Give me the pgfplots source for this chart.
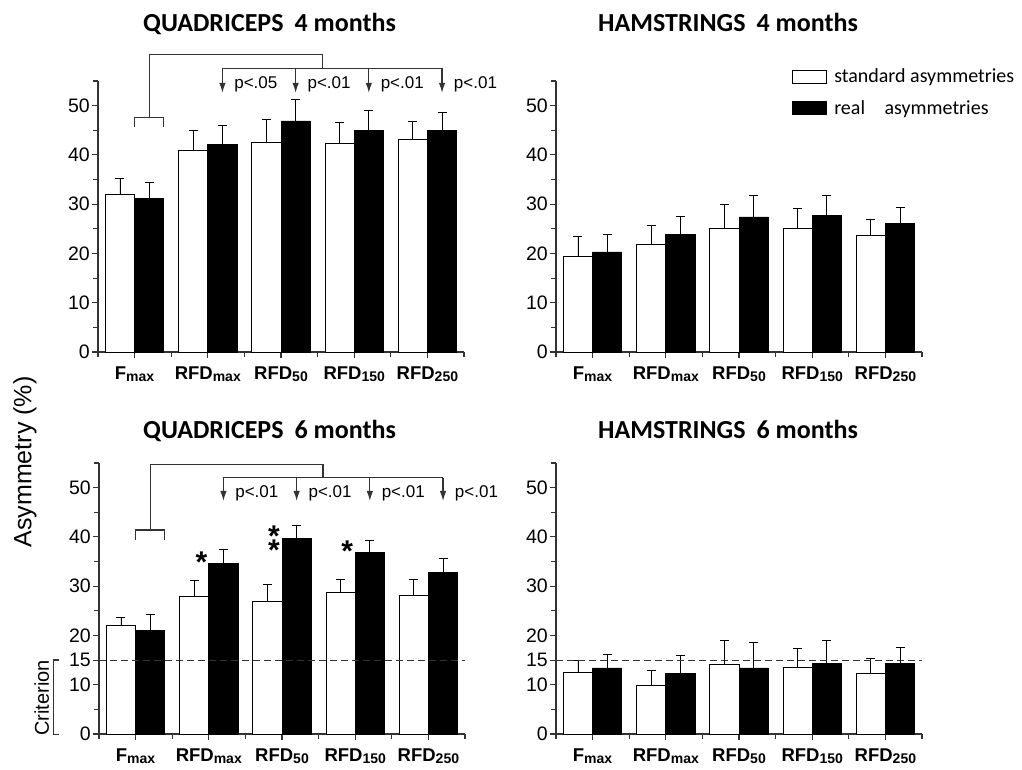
\documentclass[border=0pt]{standalone}
\usepackage{fontspec}
\setmainfont{Liberation Sans}
\newfontfamily\califont{Carlito}
\usepackage{pgfplots}
\pgfplotsset{compat=1.18}
\usetikzlibrary{arrows.meta}
\definecolor{ax}{HTML}{333333}
\newcommand\sub[1]{\raisebox{-2pt}{\fontsize{14}{14}\selectfont\bfseries #1}}
\newcommand\ttl[1]{\califont\bfseries\fontsize{26}{26}\selectfont #1}
\tikzset{
  ann/.style={line width=1.2pt, ax},
  arr/.style={line width=1.2pt, ax, -{Latex[length=10pt,width=6.5pt]}},
  plab/.style={anchor=west, font=\fontsize{17}{17}\selectfont, inner sep=0pt},
  ast/.style={anchor=base, font=\fontsize{30}{30}\selectfont\bfseries, inner sep=0pt, yshift=-14pt},
}
\pgfplotsset{
  myaxis/.style={
    scale only axis, width=366pt, height=271pt,
    xmin=-0.5, xmax=4.5, ymin=0, ymax=55,
    axis lines=left, axis line style={-, line width=1.2pt, ax},
    tick align=outside, tick style={line width=1.1pt, ax},
    major tick length=6pt, minor tick length=5pt,
    xtick={0,1,2,3,4}, minor xtick={-0.5,0.5,1.5,2.5,3.5,4.5},
    xticklabels={\textbf{F}\sub{max},\textbf{RFD}\sub{max},\textbf{RFD}\sub{50},\textbf{RFD}\sub{150},\textbf{RFD}\sub{250}},
    xticklabel style={font=\fontsize{18.5}{18.5}\selectfont\bfseries, yshift=-5pt},
    yticklabel style={font=\fontsize{19.5}{19.5}\selectfont, inner xsep=2pt},
    /pgf/number format/assume math mode=true,
    clip=false,
  },
  errs/.style={
    error bars/y dir=plus, error bars/y explicit,
    error bars/error bar style={line width=0.8pt, black},
    error bars/error mark options={rotate=90, mark size=4.5pt, line width=0.8pt, black}},
  wbar/.style={ybar, bar width=0.4, bar shift=0pt, fill=white, draw=black, line width=0.8pt, errs},
  bbar/.style={ybar, bar width=0.4, bar shift=0pt, fill=black, draw=black, line width=0.8pt, errs},
}
\begin{document}
\begin{tikzpicture}
\useasboundingbox (0,0) rectangle (1022pt,770pt);
% ---------------- top left
\begin{axis}[myaxis, at={(98pt,418pt)}, anchor=south west,
  ytick={0,10,...,50}, minor ytick={5,15,...,55}]
\addplot[wbar] coordinates {(-0.2,32.0)+-(0,3.2) (0.8,41.0)+-(0,4.0) (1.8,42.5)+-(0,4.7) (2.8,42.4)+-(0,4.2) (3.8,43.1)+-(0,3.6)};
\addplot[bbar] coordinates {(0.2,31.1)+-(0,3.3) (1.2,42.2)+-(0,3.8) (2.2,46.9)+-(0,4.4) (3.2,44.9)+-(0,4.2) (4.2,44.9)+-(0,3.7)};
\draw[ann] (axis cs:0,45.7) -- (axis cs:0,47.6) -- (axis cs:0.4,47.6) -- (axis cs:0.4,45.7);
\draw[ann] (axis cs:0.2,47.6) -- (axis cs:0.2,60.3) -- (axis cs:2.57,60.3) -- (axis cs:2.57,57.6);
\draw[ann] (axis cs:1.2,57.6) -- (axis cs:4.2,57.6);
\draw[arr] (axis cs:1.2,57.6) -- (axis cs:1.2,52.6);
\draw[arr] (axis cs:2.2,57.6) -- (axis cs:2.2,52.6);
\draw[arr] (axis cs:3.2,57.6) -- (axis cs:3.2,52.6);
\draw[arr] (axis cs:4.2,57.6) -- (axis cs:4.2,52.6);
\node[plab] at (axis cs:1.36,54.4) {p<.05};
\node[plab] at (axis cs:2.36,54.4) {p<.01};
\node[plab] at (axis cs:3.36,54.4) {p<.01};
\node[plab] at (axis cs:4.36,54.4) {p<.01};
\end{axis}
% ---------------- top right
\begin{axis}[myaxis, at={(556pt,418pt)}, anchor=south west,
  ytick={0,10,...,50}, minor ytick={5,15,...,55},
  legend style={at={(rel axis cs:0.6455,1.053)}, anchor=north west, draw=none, fill=none,
    font=\califont\fontsize{20}{20}\selectfont, row sep=12pt, column sep=5pt, inner sep=0pt},
  legend cell align=left]
\addplot[legend image code/.code={\draw[draw=black, fill=white, line width=0.8pt] (0pt,-6.5pt) rectangle (34pt,6.5pt);}, wbar]
  coordinates {(-0.2,19.4)+-(0,4.1) (0.8,21.9)+-(0,3.8) (1.8,25.1)+-(0,4.9) (2.8,25.1)+-(0,4.1) (3.8,23.6)+-(0,3.4)};
\addlegendentry{standard asymmetries}
\addplot[legend image code/.code={\draw[draw=black, fill=black, line width=0.8pt] (0pt,-6.5pt) rectangle (34pt,6.5pt);}, bbar]
  coordinates {(0.2,20.3)+-(0,3.5) (1.2,23.9)+-(0,3.6) (2.2,27.4)+-(0,4.4) (3.2,27.8)+-(0,4.0) (4.2,26.1)+-(0,3.3)};
\addlegendentry{real\hspace{0.75em} asymmetries}
\end{axis}
% ---------------- bottom left
\begin{axis}[myaxis, at={(99pt,36pt)}, anchor=south west,
  ytick={0,10,15,20,30,40,50}, minor ytick={5,25,35,45,55}]
\addplot[wbar] coordinates {(-0.2,22.0)+-(0,1.75) (0.8,28.0)+-(0,3.1) (1.8,26.9)+-(0,3.5) (2.8,28.7)+-(0,2.6) (3.8,28.1)+-(0,3.3)};
\addplot[bbar] coordinates {(0.2,21.0)+-(0,3.2) (1.2,34.6)+-(0,2.8) (2.2,39.6)+-(0,2.8) (3.2,36.8)+-(0,2.4) (4.2,32.7)+-(0,2.9)};
\draw[ax, line width=1.1pt, dash pattern=on 7pt off 4pt] (axis cs:-0.5,15) -- (axis cs:4.5,15);
\draw[ann] (axis cs:0,39.3) -- (axis cs:0,41.4) -- (axis cs:0.4,41.4) -- (axis cs:0.4,39.3);
\draw[ann] (axis cs:0.2,41.4) -- (axis cs:0.2,54.7) -- (axis cs:2.56,54.7) -- (axis cs:2.56,52.0);
\draw[ann] (axis cs:1.2,52.0) -- (axis cs:4.2,52.0);
\draw[arr] (axis cs:1.2,52.0) -- (axis cs:1.2,47.3);
\draw[arr] (axis cs:2.2,52.0) -- (axis cs:2.2,47.3);
\draw[arr] (axis cs:3.2,52.0) -- (axis cs:3.2,47.3);
\draw[arr] (axis cs:4.2,52.0) -- (axis cs:4.2,47.3);
\node[plab] at (axis cs:1.36,48.9) {p<.01};
\node[plab] at (axis cs:2.36,48.9) {p<.01};
\node[plab] at (axis cs:3.36,48.9) {p<.01};
\node[plab] at (axis cs:4.36,48.9) {p<.01};
\node[ast] at (axis cs:0.9,35.6) {*};
\node[ast] at (axis cs:1.89,38.0) {*\llap{\raisebox{13.8pt}{*}}};
\node[ast] at (axis cs:2.89,37.9) {*};
\end{axis}
% ---------------- bottom right
\begin{axis}[myaxis, at={(556pt,36pt)}, anchor=south west,
  ytick={0,10,15,20,30,40,50}, minor ytick={5,25,35,45,55}]
\addplot[wbar] coordinates {(-0.2,12.5)+-(0,2.5) (0.8,9.85)+-(0,3.15) (1.8,14.2)+-(0,4.7) (2.8,13.5)+-(0,3.9) (3.8,12.3)+-(0,3.0)};
\addplot[bbar] coordinates {(0.2,13.4)+-(0,2.7) (1.2,12.3)+-(0,3.6) (2.2,13.4)+-(0,5.1) (3.2,14.4)+-(0,4.6) (4.2,14.3)+-(0,3.2)};
\draw[ax, line width=1.1pt, dash pattern=on 7pt off 4pt] (axis cs:-0.5,15) -- (axis cs:4.5,15);
\end{axis}
% ---------------- titles and labels
\node[anchor=base west, inner sep=0pt] at (143pt,738.3pt) {\ttl{QUADRICEPS\hspace{0.2em} 4 months}};
\node[anchor=base west, inner sep=0pt] at (598pt,738.3pt) {\ttl{HAMSTRINGS\hspace{0.2em} 4 months}};
\node[anchor=base west, inner sep=0pt] at (143pt,331.7pt) {\ttl{QUADRICEPS\hspace{0.2em} 6 months}};
\node[anchor=base west, inner sep=0pt] at (598pt,331.7pt) {\ttl{HAMSTRINGS\hspace{0.2em} 6 months}};
\node[rotate=90, font=\fontsize{25}{25}\selectfont, inner sep=0pt] at (25pt,308pt) {Asymmetry (\%)};
\node[rotate=90, font=\fontsize{20}{20}\selectfont, inner sep=0pt] at (41.7pt,72pt) {Criterion};
\draw[ax, line width=1.2pt] (59pt,110pt) -- (53.3pt,110pt) -- (53.3pt,35.7pt) -- (59pt,35.7pt);
\end{tikzpicture}
\end{document}
